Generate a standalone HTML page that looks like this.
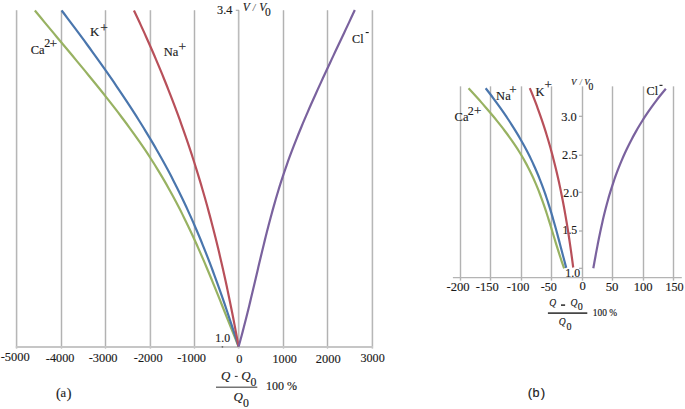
<!DOCTYPE html>
<html><head><meta charset="utf-8"><style>
html,body{margin:0;padding:0;background:#fff;}
svg{display:block;}
</style></head><body>
<svg width="685" height="409" viewBox="0 0 685 409">
<rect width="685" height="409" fill="#fff"/>
<line x1="16.6" y1="10.3" x2="16.6" y2="348.6" stroke="#ebebeb" stroke-width="2.6"/>
<line x1="16.6" y1="10.3" x2="16.6" y2="348.6" stroke="#b2b2b2" stroke-width="1.05"/>
<line x1="61.5" y1="10.3" x2="61.5" y2="348.6" stroke="#ebebeb" stroke-width="2.6"/>
<line x1="61.5" y1="10.3" x2="61.5" y2="348.6" stroke="#b2b2b2" stroke-width="1.05"/>
<line x1="105.5" y1="10.3" x2="105.5" y2="348.6" stroke="#ebebeb" stroke-width="2.6"/>
<line x1="105.5" y1="10.3" x2="105.5" y2="348.6" stroke="#b2b2b2" stroke-width="1.05"/>
<line x1="150.4" y1="10.3" x2="150.4" y2="348.6" stroke="#ebebeb" stroke-width="2.6"/>
<line x1="150.4" y1="10.3" x2="150.4" y2="348.6" stroke="#b2b2b2" stroke-width="1.05"/>
<line x1="194.5" y1="10.3" x2="194.5" y2="348.6" stroke="#ebebeb" stroke-width="2.6"/>
<line x1="194.5" y1="10.3" x2="194.5" y2="348.6" stroke="#b2b2b2" stroke-width="1.05"/>
<line x1="238.7" y1="10.3" x2="238.7" y2="348.6" stroke="#ebebeb" stroke-width="2.6"/>
<line x1="238.7" y1="10.3" x2="238.7" y2="348.6" stroke="#b2b2b2" stroke-width="1.05"/>
<line x1="283.5" y1="10.3" x2="283.5" y2="348.6" stroke="#ebebeb" stroke-width="2.6"/>
<line x1="283.5" y1="10.3" x2="283.5" y2="348.6" stroke="#b2b2b2" stroke-width="1.05"/>
<line x1="327.5" y1="10.3" x2="327.5" y2="348.6" stroke="#ebebeb" stroke-width="2.6"/>
<line x1="327.5" y1="10.3" x2="327.5" y2="348.6" stroke="#b2b2b2" stroke-width="1.05"/>
<line x1="372.4" y1="10.3" x2="372.4" y2="348.6" stroke="#ebebeb" stroke-width="2.6"/>
<line x1="372.4" y1="10.3" x2="372.4" y2="348.6" stroke="#b2b2b2" stroke-width="1.05"/>
<line x1="15.8" y1="347.0" x2="373.0" y2="347.0" stroke="#c6c6c6" stroke-width="2.0"/>
<line x1="235.8" y1="10.3" x2="238.9" y2="10.3" stroke="#a8a8a8" stroke-width="1.15"/>
<circle cx="222.4" cy="346.8" r="0.9" fill="#666"/>
<text id="t0" x="0.66" y="360.87" font-family='"Liberation Serif", serif' font-size="12.74" textLength="29.11" lengthAdjust="spacingAndGlyphs" fill="#1a1a1a" stroke="#1a1a1a" stroke-width="0.15">-5000</text>
<text id="t1" x="45.87" y="361.67" font-family='"Liberation Serif", serif' font-size="13.19" textLength="28.49" lengthAdjust="spacingAndGlyphs" fill="#1a1a1a" stroke="#1a1a1a" stroke-width="0.15">-4000</text>
<text id="t2" x="88.67" y="362.47" font-family='"Liberation Serif", serif' font-size="13.33" textLength="28.91" lengthAdjust="spacingAndGlyphs" fill="#1a1a1a" stroke="#1a1a1a" stroke-width="0.15">-3000</text>
<text id="t3" x="133.87" y="362.37" font-family='"Liberation Serif", serif' font-size="12.89" textLength="28.70" lengthAdjust="spacingAndGlyphs" fill="#1a1a1a" stroke="#1a1a1a" stroke-width="0.15">-2000</text>
<text id="t4" x="177.17" y="362.37" font-family='"Liberation Serif", serif' font-size="12.59" textLength="28.91" lengthAdjust="spacingAndGlyphs" fill="#1a1a1a" stroke="#1a1a1a" stroke-width="0.15">-1000</text>
<text id="t5" x="236.20" y="362.87" font-family='"Liberation Serif", serif' font-size="12.74" textLength="6.19" lengthAdjust="spacingAndGlyphs" fill="#1a1a1a" stroke="#1a1a1a" stroke-width="0.15">0</text>
<text id="t6" x="272.51" y="362.77" font-family='"Liberation Serif", serif' font-size="12.59" textLength="24.28" lengthAdjust="spacingAndGlyphs" fill="#1a1a1a" stroke="#1a1a1a" stroke-width="0.15">1000</text>
<text id="t7" x="315.74" y="362.87" font-family='"Liberation Serif", serif' font-size="12.74" textLength="24.86" lengthAdjust="spacingAndGlyphs" fill="#1a1a1a" stroke="#1a1a1a" stroke-width="0.15">2000</text>
<text id="t8" x="360.50" y="362.27" font-family='"Liberation Serif", serif' font-size="12.59" textLength="24.19" lengthAdjust="spacingAndGlyphs" fill="#1a1a1a" stroke="#1a1a1a" stroke-width="0.15">3000</text>
<text id="t9" x="217.09" y="13.71" font-family='"Liberation Serif", serif' font-size="12.59" textLength="15.30" lengthAdjust="spacingAndGlyphs" fill="#1a1a1a" stroke="#1a1a1a" stroke-width="0.15">3.4</text>
<text id="t10" x="215.34" y="341.82" font-family='"Liberation Serif", serif' font-size="12.21" textLength="14.73" lengthAdjust="spacingAndGlyphs" fill="#1a1a1a" stroke="#1a1a1a" stroke-width="0.15">1.0</text>
<text id="t11" x="242.87" y="10.73" font-family='"Liberation Serif", serif' font-size="11.5" font-style="italic" fill="#1a1a1a" stroke="#1a1a1a" stroke-width="0.15">V</text>
<text id="t12" x="252.83" y="10.50" font-family='"Liberation Serif", serif' font-size="9.5" font-style="italic" fill="#666" stroke="#666" stroke-width="0.15">/</text>
<text id="t13" x="259.27" y="10.73" font-family='"Liberation Serif", serif' font-size="11.5" font-style="italic" fill="#1a1a1a" stroke="#1a1a1a" stroke-width="0.15">V</text>
<text id="t14" x="264.94" y="16.19" font-family='"Liberation Serif", serif' font-size="11.5" fill="#1a1a1a" stroke="#1a1a1a" stroke-width="0.15">0</text>
<path d="M34.87,10.50 L37.98,14.28 L41.10,18.05 L44.23,21.83 L47.36,25.60 L50.50,29.38 L53.65,33.15 L56.79,36.93 L59.94,40.70 L63.09,44.48 L66.24,48.25 L69.38,52.03 L72.52,55.80 L75.66,59.58 L78.78,63.35 L81.90,67.13 L85.01,70.90 L88.11,74.68 L91.19,78.46 L94.26,82.23 L97.31,86.01 L100.34,89.78 L103.36,93.56 L106.35,97.33 L109.32,101.11 L112.27,104.88 L115.19,108.66 L118.09,112.43 L120.96,116.21 L123.80,119.98 L126.61,123.76 L129.38,127.53 L132.12,131.31 L134.83,135.08 L137.50,138.86 L140.13,142.63 L142.73,146.41 L145.28,150.19 L147.78,153.96 L150.25,157.74 L152.67,161.51 L155.04,165.29 L157.38,169.06 L159.67,172.84 L161.92,176.61 L164.13,180.39 L166.30,184.16 L168.43,187.94 L170.53,191.71 L172.60,195.49 L174.62,199.26 L176.62,203.04 L178.58,206.81 L180.52,210.59 L182.42,214.37 L184.29,218.14 L186.14,221.92 L187.96,225.69 L189.75,229.47 L191.52,233.24 L193.27,237.02 L194.99,240.79 L196.69,244.57 L198.38,248.34 L200.04,252.12 L201.68,255.89 L203.31,259.67 L204.92,263.44 L206.52,267.22 L208.11,270.99 L209.68,274.77 L211.24,278.54 L212.79,282.32 L214.33,286.10 L215.86,289.87 L217.38,293.65 L218.90,297.42 L220.42,301.20 L221.93,304.97 L223.43,308.75 L224.94,312.52 L226.44,316.30 L227.95,320.07 L229.45,323.85 L230.96,327.62 L232.47,331.40 L233.99,335.17 L235.51,338.95 L237.04,342.72 L238.58,346.50" fill="none" stroke="#98b262" stroke-width="2.2" stroke-linejoin="round"/>
<path d="M61.66,10.50 L64.53,14.28 L67.39,18.05 L70.24,21.83 L73.07,25.60 L75.90,29.38 L78.71,33.15 L81.50,36.93 L84.28,40.70 L87.05,44.48 L89.81,48.25 L92.54,52.03 L95.27,55.80 L97.97,59.58 L100.66,63.35 L103.34,67.13 L105.99,70.90 L108.63,74.68 L111.25,78.46 L113.85,82.23 L116.43,86.01 L118.99,89.78 L121.53,93.56 L124.05,97.33 L126.55,101.11 L129.03,104.88 L131.48,108.66 L133.91,112.43 L136.32,116.21 L138.71,119.98 L141.07,123.76 L143.41,127.53 L145.72,131.31 L148.01,135.08 L150.27,138.86 L152.51,142.63 L154.72,146.41 L156.90,150.19 L159.06,153.96 L161.18,157.74 L163.28,161.51 L165.35,165.29 L167.39,169.06 L169.40,172.84 L171.38,176.61 L173.33,180.39 L175.25,184.16 L177.15,187.94 L179.01,191.71 L180.85,195.49 L182.67,199.26 L184.46,203.04 L186.22,206.81 L187.96,210.59 L189.67,214.37 L191.36,218.14 L193.03,221.92 L194.67,225.69 L196.30,229.47 L197.90,233.24 L199.48,237.02 L201.04,240.79 L202.57,244.57 L204.09,248.34 L205.60,252.12 L207.08,255.89 L208.54,259.67 L209.99,263.44 L211.42,267.22 L212.84,270.99 L214.24,274.77 L215.62,278.54 L216.99,282.32 L218.35,286.10 L219.69,289.87 L221.02,293.65 L222.34,297.42 L223.64,301.20 L224.94,304.97 L226.22,308.75 L227.49,312.52 L228.76,316.30 L230.01,320.07 L231.26,323.85 L232.49,327.62 L233.72,331.40 L234.95,335.17 L236.16,338.95 L237.37,342.72 L238.58,346.50" fill="none" stroke="#4a76ad" stroke-width="2.2" stroke-linejoin="round"/>
<path d="M133.96,10.50 L135.74,14.28 L137.52,18.05 L139.28,21.83 L141.02,25.60 L142.75,29.38 L144.47,33.15 L146.17,36.93 L147.85,40.70 L149.52,44.48 L151.18,48.25 L152.82,52.03 L154.44,55.80 L156.06,59.58 L157.65,63.35 L159.23,67.13 L160.80,70.90 L162.35,74.68 L163.89,78.46 L165.41,82.23 L166.92,86.01 L168.41,89.78 L169.89,93.56 L171.36,97.33 L172.81,101.11 L174.24,104.88 L175.66,108.66 L177.06,112.43 L178.45,116.21 L179.83,119.98 L181.19,123.76 L182.53,127.53 L183.86,131.31 L185.18,135.08 L186.48,138.86 L187.77,142.63 L189.04,146.41 L190.29,150.19 L191.53,153.96 L192.76,157.74 L193.97,161.51 L195.17,165.29 L196.35,169.06 L197.52,172.84 L198.67,176.61 L199.81,180.39 L200.94,184.16 L202.05,187.94 L203.15,191.71 L204.23,195.49 L205.31,199.26 L206.36,203.04 L207.41,206.81 L208.44,210.59 L209.46,214.37 L210.47,218.14 L211.47,221.92 L212.45,225.69 L213.42,229.47 L214.38,233.24 L215.33,237.02 L216.27,240.79 L217.19,244.57 L218.11,248.34 L219.01,252.12 L219.90,255.89 L220.78,259.67 L221.66,263.44 L222.52,267.22 L223.37,270.99 L224.21,274.77 L225.04,278.54 L225.87,282.32 L226.68,286.10 L227.48,289.87 L228.28,293.65 L229.07,297.42 L229.84,301.20 L230.61,304.97 L231.37,308.75 L232.13,312.52 L232.87,316.30 L233.61,320.07 L234.34,323.85 L235.06,327.62 L235.77,331.40 L236.48,335.17 L237.18,338.95 L237.87,342.72 L238.56,346.50" fill="none" stroke="#b8505a" stroke-width="2.2" stroke-linejoin="round"/>
<path d="M354.81,10.00 L353.06,13.78 L351.30,17.56 L349.54,21.34 L347.77,25.12 L345.99,28.90 L344.22,32.69 L342.44,36.47 L340.66,40.25 L338.87,44.03 L337.09,47.81 L335.31,51.59 L333.53,55.37 L331.76,59.15 L329.99,62.93 L328.22,66.71 L326.46,70.49 L324.70,74.28 L322.95,78.06 L321.21,81.84 L319.48,85.62 L317.76,89.40 L316.05,93.18 L314.35,96.96 L312.66,100.74 L310.98,104.52 L309.32,108.30 L307.68,112.08 L306.05,115.87 L304.44,119.65 L302.84,123.43 L301.26,127.21 L299.71,130.99 L298.17,134.77 L296.65,138.55 L295.16,142.33 L293.68,146.11 L292.24,149.89 L290.81,153.67 L289.41,157.46 L288.04,161.24 L286.70,165.02 L285.38,168.80 L284.09,172.58 L282.83,176.36 L281.60,180.14 L280.39,183.92 L279.21,187.70 L278.05,191.48 L276.92,195.26 L275.80,199.04 L274.71,202.83 L273.64,206.61 L272.59,210.39 L271.55,214.17 L270.53,217.95 L269.53,221.73 L268.54,225.51 L267.57,229.29 L266.61,233.07 L265.66,236.85 L264.72,240.63 L263.79,244.42 L262.87,248.20 L261.96,251.98 L261.05,255.76 L260.15,259.54 L259.25,263.32 L258.36,267.10 L257.47,270.88 L256.58,274.66 L255.70,278.44 L254.81,282.22 L253.92,286.01 L253.02,289.79 L252.13,293.57 L251.23,297.35 L250.32,301.13 L249.41,304.91 L248.49,308.69 L247.56,312.47 L246.62,316.25 L245.67,320.03 L244.70,323.81 L243.73,327.60 L242.74,331.38 L241.73,335.16 L240.71,338.94 L239.68,342.72 L238.62,346.50" fill="none" stroke="#7a629e" stroke-width="2.2" stroke-linejoin="round"/>
<text id="t15" x="30.70" y="54.48" font-family='"Liberation Serif", serif' font-size="12.5" fill="#1a1a1a" stroke="#1a1a1a" stroke-width="0.15">Ca</text>
<text id="t16" x="44.26" y="47.00" font-family='"Liberation Serif", serif' font-size="12" fill="#1a1a1a" stroke="#1a1a1a" stroke-width="0.15">2</text>
<text id="t17" x="49.62" y="47.66" font-family='"Liberation Serif", serif' font-size="13.5" fill="#1a1a1a" stroke="#1a1a1a" stroke-width="0.15">+</text>
<text id="t18" x="90.11" y="35.50" font-family='"Liberation Serif", serif' font-size="13" fill="#1a1a1a" stroke="#1a1a1a" stroke-width="0.15">K</text>
<text id="t19" x="100.33" y="31.65" font-family='"Liberation Serif", serif' font-size="13.5" fill="#1a1a1a" stroke="#1a1a1a" stroke-width="0.15">+</text>
<text id="t20" x="163.82" y="56.27" font-family='"Liberation Serif", serif' font-size="12.5" fill="#1a1a1a" stroke="#1a1a1a" stroke-width="0.15">Na</text>
<text id="t21" x="178.52" y="51.16" font-family='"Liberation Serif", serif' font-size="13.5" fill="#1a1a1a" stroke="#1a1a1a" stroke-width="0.15">+</text>
<text id="t22" x="352.11" y="43.48" font-family='"Liberation Serif", serif' font-size="12.2" fill="#1a1a1a" stroke="#1a1a1a" stroke-width="0.15">Cl</text>
<rect x="365.7" y="32.0" width="3" height="1.1" fill="#1a1a1a"/>
<text id="t23" x="221.09" y="379.72" font-family='"Liberation Serif", serif' font-size="13" font-style="italic" fill="#1a1a1a" stroke="#1a1a1a" stroke-width="0.15">Q</text>
<rect x="234.8" y="375.9" width="2.9" height="0.9" fill="#1a1a1a"/>
<text id="t24" x="241.28" y="379.72" font-family='"Liberation Serif", serif' font-size="13" font-style="italic" fill="#1a1a1a" stroke="#1a1a1a" stroke-width="0.15">Q</text>
<text id="t25" x="250.53" y="386.08" font-family='"Liberation Serif", serif' font-size="11.8" fill="#1a1a1a" stroke="#1a1a1a" stroke-width="0.15">0</text>
<rect x="216" y="386.7" width="41.3" height="0.9" fill="#1a1a1a"/>
<text id="t26" x="233.48" y="400.62" font-family='"Liberation Serif", serif' font-size="13" font-style="italic" fill="#1a1a1a" stroke="#1a1a1a" stroke-width="0.15">Q</text>
<text id="t27" x="242.93" y="407.28" font-family='"Liberation Serif", serif' font-size="11.8" fill="#1a1a1a" stroke="#1a1a1a" stroke-width="0.15">0</text>
<text id="t28" x="265.92" y="390.12" font-family='"Liberation Serif", serif' font-size="12" fill="#1a1a1a" stroke="#1a1a1a" stroke-width="0.15">100 %</text>
<text id="t29" x="56.06" y="397.85" font-family='"Liberation Serif", serif' font-size="14.2" fill="#1a1a1a" stroke="#1a1a1a" stroke-width="0.15">(</text>
<text id="t30" x="60.56" y="397.27" font-family='"Liberation Serif", serif' font-size="12.5" fill="#1a1a1a" stroke="#1a1a1a" stroke-width="0.15">a</text>
<text id="t31" x="66.78" y="397.92" font-family='"Liberation Serif", serif' font-size="14.2" fill="#1a1a1a" stroke="#1a1a1a" stroke-width="0.15">)</text>
<line x1="460.5" y1="86.4" x2="460.5" y2="280.6" stroke="#ebebeb" stroke-width="2.6"/>
<line x1="460.5" y1="86.4" x2="460.5" y2="280.6" stroke="#b2b2b2" stroke-width="1.05"/>
<line x1="490.5" y1="86.4" x2="490.5" y2="280.6" stroke="#ebebeb" stroke-width="2.6"/>
<line x1="490.5" y1="86.4" x2="490.5" y2="280.6" stroke="#b2b2b2" stroke-width="1.05"/>
<line x1="521.5" y1="86.4" x2="521.5" y2="280.6" stroke="#ebebeb" stroke-width="2.6"/>
<line x1="521.5" y1="86.4" x2="521.5" y2="280.6" stroke="#b2b2b2" stroke-width="1.05"/>
<line x1="551.5" y1="86.4" x2="551.5" y2="280.6" stroke="#ebebeb" stroke-width="2.6"/>
<line x1="551.5" y1="86.4" x2="551.5" y2="280.6" stroke="#b2b2b2" stroke-width="1.05"/>
<line x1="582.5" y1="86.4" x2="582.5" y2="280.6" stroke="#ebebeb" stroke-width="2.6"/>
<line x1="582.5" y1="86.4" x2="582.5" y2="280.6" stroke="#b2b2b2" stroke-width="1.05"/>
<line x1="612.5" y1="86.4" x2="612.5" y2="280.6" stroke="#ebebeb" stroke-width="2.6"/>
<line x1="612.5" y1="86.4" x2="612.5" y2="280.6" stroke="#b2b2b2" stroke-width="1.05"/>
<line x1="643.5" y1="86.4" x2="643.5" y2="280.6" stroke="#ebebeb" stroke-width="2.6"/>
<line x1="643.5" y1="86.4" x2="643.5" y2="280.6" stroke="#b2b2b2" stroke-width="1.05"/>
<line x1="673.5" y1="86.4" x2="673.5" y2="280.6" stroke="#ebebeb" stroke-width="2.6"/>
<line x1="673.5" y1="86.4" x2="673.5" y2="280.6" stroke="#b2b2b2" stroke-width="1.05"/>
<line x1="452.9" y1="277.6" x2="681.8" y2="277.6" stroke="#b4b4b4" stroke-width="1.4"/>
<line x1="579.0" y1="116.3" x2="582.5" y2="116.3" stroke="#a8a8a8" stroke-width="1.15"/>
<line x1="579.0" y1="155.2" x2="582.5" y2="155.2" stroke="#a8a8a8" stroke-width="1.15"/>
<line x1="579.0" y1="192.3" x2="582.5" y2="192.3" stroke="#a8a8a8" stroke-width="1.15"/>
<line x1="579.0" y1="231.0" x2="582.5" y2="231.0" stroke="#a8a8a8" stroke-width="1.15"/>
<line x1="579.0" y1="268.3" x2="582.5" y2="268.3" stroke="#a8a8a8" stroke-width="1.15"/>
<text id="t32" x="561.18" y="120.70" font-family='"Liberation Serif", serif' font-size="13.09" textLength="15.52" lengthAdjust="spacingAndGlyphs" fill="#1a1a1a" stroke="#1a1a1a" stroke-width="0.15">3.0</text>
<text id="t33" x="562.04" y="158.80" font-family='"Liberation Serif", serif' font-size="13.04" textLength="15.56" lengthAdjust="spacingAndGlyphs" fill="#1a1a1a" stroke="#1a1a1a" stroke-width="0.15">2.5</text>
<text id="t34" x="563.36" y="196.51" font-family='"Liberation Serif", serif' font-size="12.65" textLength="15.13" lengthAdjust="spacingAndGlyphs" fill="#1a1a1a" stroke="#1a1a1a" stroke-width="0.15">2.0</text>
<text id="t35" x="562.54" y="233.51" font-family='"Liberation Serif", serif' font-size="12.74" textLength="14.73" lengthAdjust="spacingAndGlyphs" fill="#1a1a1a" stroke="#1a1a1a" stroke-width="0.15">1.5</text>
<text id="t36" x="565.34" y="276.81" font-family='"Liberation Serif", serif' font-size="12.79" textLength="14.73" lengthAdjust="spacingAndGlyphs" fill="#1a1a1a" stroke="#1a1a1a" stroke-width="0.15">1.0</text>
<text id="t37" x="446.46" y="290.87" font-family='"Liberation Serif", serif' font-size="12.89" textLength="23.12" lengthAdjust="spacingAndGlyphs" fill="#1a1a1a" stroke="#1a1a1a" stroke-width="0.15">-200</text>
<text id="t38" x="475.86" y="290.87" font-family='"Liberation Serif", serif' font-size="12.59" textLength="22.91" lengthAdjust="spacingAndGlyphs" fill="#1a1a1a" stroke="#1a1a1a" stroke-width="0.15">-150</text>
<text id="t39" x="506.87" y="290.77" font-family='"Liberation Serif", serif' font-size="12.89" textLength="22.50" lengthAdjust="spacingAndGlyphs" fill="#1a1a1a" stroke="#1a1a1a" stroke-width="0.15">-100</text>
<text id="t40" x="540.78" y="290.57" font-family='"Liberation Serif", serif' font-size="12.74" textLength="16.08" lengthAdjust="spacingAndGlyphs" fill="#1a1a1a" stroke="#1a1a1a" stroke-width="0.15">-50</text>
<text id="t41" x="579.50" y="290.48" font-family='"Liberation Serif", serif' font-size="12.30" textLength="6.31" lengthAdjust="spacingAndGlyphs" fill="#1a1a1a" stroke="#1a1a1a" stroke-width="0.15">0</text>
<text id="t42" x="605.73" y="290.78" font-family='"Liberation Serif", serif' font-size="12.44" textLength="12.78" lengthAdjust="spacingAndGlyphs" fill="#1a1a1a" stroke="#1a1a1a" stroke-width="0.15">50</text>
<text id="t43" x="633.66" y="290.77" font-family='"Liberation Serif", serif' font-size="12.59" textLength="18.94" lengthAdjust="spacingAndGlyphs" fill="#1a1a1a" stroke="#1a1a1a" stroke-width="0.15">100</text>
<text id="t44" x="665.40" y="291.47" font-family='"Liberation Serif", serif' font-size="12.59" textLength="18.28" lengthAdjust="spacingAndGlyphs" fill="#1a1a1a" stroke="#1a1a1a" stroke-width="0.15">150</text>
<text id="t45" x="571.11" y="85.27" font-family='"Liberation Serif", serif' font-size="8.9" font-style="italic" fill="#1a1a1a" stroke="#1a1a1a" stroke-width="0.15">V</text>
<text id="t46" x="579.84" y="85.12" font-family='"Liberation Serif", serif' font-size="7.5" font-style="italic" fill="#777" stroke="#777" stroke-width="0.15">/</text>
<text id="t47" x="584.31" y="85.27" font-family='"Liberation Serif", serif' font-size="8.9" font-style="italic" fill="#1a1a1a" stroke="#1a1a1a" stroke-width="0.15">V</text>
<text id="t48" x="588.62" y="89.80" font-family='"Liberation Serif", serif' font-size="9.6" fill="#1a1a1a" stroke="#1a1a1a" stroke-width="0.15">0</text>
<path d="M468.55,88.20 L470.41,90.22 L472.25,92.25 L474.09,94.27 L475.92,96.30 L477.73,98.32 L479.54,100.35 L481.33,102.37 L483.10,104.40 L484.87,106.42 L486.62,108.45 L488.35,110.47 L490.06,112.50 L491.76,114.52 L493.45,116.55 L495.11,118.57 L496.76,120.60 L498.38,122.62 L499.99,124.64 L501.58,126.67 L503.14,128.69 L504.69,130.72 L506.21,132.74 L507.70,134.77 L509.18,136.79 L510.63,138.82 L512.05,140.84 L513.45,142.87 L514.82,144.89 L516.16,146.92 L517.48,148.94 L518.77,150.97 L520.02,152.99 L521.25,155.02 L522.45,157.04 L523.62,159.07 L524.76,161.09 L525.87,163.11 L526.96,165.14 L528.02,167.16 L529.05,169.19 L530.06,171.21 L531.04,173.24 L532.00,175.26 L532.94,177.29 L533.85,179.31 L534.74,181.34 L535.62,183.36 L536.47,185.39 L537.31,187.41 L538.12,189.44 L538.92,191.46 L539.71,193.49 L540.47,195.51 L541.23,197.53 L541.97,199.56 L542.69,201.58 L543.40,203.61 L544.10,205.63 L544.79,207.66 L545.47,209.68 L546.14,211.71 L546.80,213.73 L547.45,215.76 L548.10,217.78 L548.74,219.81 L549.37,221.83 L550.00,223.86 L550.62,225.88 L551.24,227.91 L551.86,229.93 L552.48,231.96 L553.09,233.98 L553.71,236.00 L554.32,238.03 L554.94,240.05 L555.56,242.08 L556.18,244.10 L556.81,246.13 L557.44,248.15 L558.07,250.18 L558.71,252.20 L559.36,254.23 L560.01,256.25 L560.68,258.28 L561.35,260.30 L562.03,262.33 L562.72,264.35 L563.42,266.38 L564.14,268.40" fill="none" stroke="#98b262" stroke-width="2.2" stroke-linejoin="round"/>
<path d="M485.66,88.20 L487.23,90.22 L488.78,92.24 L490.32,94.26 L491.85,96.28 L493.36,98.30 L494.85,100.31 L496.33,102.33 L497.79,104.35 L499.24,106.37 L500.68,108.39 L502.10,110.41 L503.50,112.43 L504.88,114.45 L506.25,116.47 L507.60,118.49 L508.94,120.51 L510.26,122.52 L511.56,124.54 L512.84,126.56 L514.11,128.58 L515.36,130.60 L516.59,132.62 L517.80,134.64 L519.00,136.66 L520.17,138.68 L521.33,140.70 L522.47,142.72 L523.59,144.73 L524.69,146.75 L525.77,148.77 L526.83,150.79 L527.87,152.81 L528.89,154.83 L529.89,156.85 L530.88,158.87 L531.84,160.89 L532.78,162.91 L533.71,164.93 L534.62,166.94 L535.51,168.96 L536.38,170.98 L537.23,173.00 L538.07,175.02 L538.90,177.04 L539.70,179.06 L540.50,181.08 L541.27,183.10 L542.04,185.12 L542.79,187.14 L543.52,189.16 L544.25,191.17 L544.96,193.19 L545.66,195.21 L546.34,197.23 L547.02,199.25 L547.68,201.27 L548.34,203.29 L548.98,205.31 L549.62,207.33 L550.24,209.35 L550.86,211.37 L551.46,213.38 L552.06,215.40 L552.66,217.42 L553.24,219.44 L553.82,221.46 L554.39,223.48 L554.96,225.50 L555.52,227.52 L556.07,229.54 L556.63,231.56 L557.17,233.58 L557.72,235.59 L558.26,237.61 L558.79,239.63 L559.33,241.65 L559.86,243.67 L560.39,245.69 L560.92,247.71 L561.45,249.73 L561.98,251.75 L562.50,253.77 L563.03,255.79 L563.56,257.80 L564.09,259.82 L564.62,261.84 L565.16,263.86 L565.70,265.88 L566.24,267.90" fill="none" stroke="#4a76ad" stroke-width="2.2" stroke-linejoin="round"/>
<path d="M529.79,88.10 L530.63,90.12 L531.46,92.13 L532.27,94.15 L533.08,96.16 L533.87,98.18 L534.66,100.19 L535.43,102.21 L536.20,104.23 L536.95,106.24 L537.69,108.26 L538.43,110.27 L539.15,112.29 L539.87,114.30 L540.57,116.32 L541.27,118.34 L541.96,120.35 L542.63,122.37 L543.30,124.38 L543.96,126.40 L544.61,128.41 L545.25,130.43 L545.88,132.45 L546.51,134.46 L547.12,136.48 L547.73,138.49 L548.33,140.51 L548.91,142.52 L549.50,144.54 L550.07,146.56 L550.63,148.57 L551.19,150.59 L551.74,152.60 L552.28,154.62 L552.82,156.63 L553.34,158.65 L553.86,160.67 L554.37,162.68 L554.88,164.70 L555.37,166.71 L555.86,168.73 L556.35,170.74 L556.82,172.76 L557.29,174.78 L557.75,176.79 L558.21,178.81 L558.66,180.82 L559.10,182.84 L559.54,184.86 L559.97,186.87 L560.39,188.89 L560.81,190.90 L561.22,192.92 L561.63,194.93 L562.03,196.95 L562.43,198.97 L562.82,200.98 L563.20,203.00 L563.58,205.01 L563.95,207.03 L564.32,209.04 L564.68,211.06 L565.04,213.08 L565.40,215.09 L565.75,217.11 L566.09,219.12 L566.43,221.14 L566.76,223.15 L567.09,225.17 L567.42,227.19 L567.74,229.20 L568.06,231.22 L568.38,233.23 L568.69,235.25 L568.99,237.26 L569.29,239.28 L569.59,241.30 L569.89,243.31 L570.18,245.33 L570.47,247.34 L570.75,249.36 L571.04,251.37 L571.32,253.39 L571.59,255.41 L571.87,257.42 L572.14,259.44 L572.41,261.45 L572.67,263.47 L572.93,265.48 L573.19,267.50" fill="none" stroke="#b8505a" stroke-width="2.2" stroke-linejoin="round"/>
<path d="M665.84,88.70 L664.16,90.72 L662.50,92.74 L660.87,94.75 L659.27,96.77 L657.70,98.79 L656.16,100.81 L654.65,102.83 L653.16,104.84 L651.70,106.86 L650.27,108.88 L648.86,110.90 L647.48,112.92 L646.13,114.93 L644.80,116.95 L643.49,118.97 L642.21,120.99 L640.96,123.01 L639.72,125.02 L638.52,127.04 L637.33,129.06 L636.17,131.08 L635.03,133.10 L633.91,135.11 L632.82,137.13 L631.75,139.15 L630.70,141.17 L629.67,143.19 L628.66,145.20 L627.67,147.22 L626.70,149.24 L625.75,151.26 L624.82,153.28 L623.91,155.29 L623.02,157.31 L622.14,159.33 L621.29,161.35 L620.45,163.37 L619.63,165.38 L618.83,167.40 L618.04,169.42 L617.27,171.44 L616.52,173.46 L615.78,175.47 L615.06,177.49 L614.35,179.51 L613.66,181.53 L612.98,183.54 L612.32,185.56 L611.67,187.58 L611.03,189.60 L610.41,191.62 L609.80,193.63 L609.20,195.65 L608.62,197.67 L608.05,199.69 L607.49,201.71 L606.93,203.72 L606.40,205.74 L605.87,207.76 L605.35,209.78 L604.84,211.80 L604.34,213.81 L603.85,215.83 L603.37,217.85 L602.90,219.87 L602.43,221.89 L601.98,223.90 L601.53,225.92 L601.09,227.94 L600.66,229.96 L600.23,231.98 L599.81,233.99 L599.39,236.01 L598.98,238.03 L598.58,240.05 L598.18,242.07 L597.79,244.08 L597.40,246.10 L597.01,248.12 L596.63,250.14 L596.25,252.16 L595.87,254.17 L595.50,256.19 L595.13,258.21 L594.76,260.23 L594.39,262.25 L594.03,264.26 L593.66,266.28 L593.30,268.30" fill="none" stroke="#7a629e" stroke-width="2.2" stroke-linejoin="round"/>
<text id="t49" x="454.60" y="120.88" font-family='"Liberation Serif", serif' font-size="12.5" fill="#1a1a1a" stroke="#1a1a1a" stroke-width="0.15">Ca</text>
<text id="t50" x="467.76" y="114.50" font-family='"Liberation Serif", serif' font-size="12" fill="#1a1a1a" stroke="#1a1a1a" stroke-width="0.15">2</text>
<text id="t51" x="473.95" y="114.69" font-family='"Liberation Serif", serif' font-size="13" fill="#1a1a1a" stroke="#1a1a1a" stroke-width="0.15">+</text>
<text id="t52" x="496.12" y="99.78" font-family='"Liberation Serif", serif' font-size="12.5" fill="#1a1a1a" stroke="#1a1a1a" stroke-width="0.15">Na</text>
<text id="t53" x="509.15" y="93.69" font-family='"Liberation Serif", serif' font-size="13" fill="#1a1a1a" stroke="#1a1a1a" stroke-width="0.15">+</text>
<text id="t54" x="535.62" y="96.00" font-family='"Liberation Serif", serif' font-size="12.5" fill="#1a1a1a" stroke="#1a1a1a" stroke-width="0.15">K</text>
<text id="t55" x="544.55" y="88.79" font-family='"Liberation Serif", serif' font-size="13" fill="#1a1a1a" stroke="#1a1a1a" stroke-width="0.15">+</text>
<text id="t56" x="646.51" y="94.58" font-family='"Liberation Serif", serif' font-size="12.2" fill="#1a1a1a" stroke="#1a1a1a" stroke-width="0.15">Cl</text>
<rect x="659.5" y="84.8" width="3" height="1.1" fill="#1a1a1a"/>
<text id="t57" x="549.37" y="306.13" font-family='"Liberation Serif", serif' font-size="9.6" font-style="italic" fill="#1a1a1a" stroke="#1a1a1a" stroke-width="0.15">Q</text>
<rect x="561" y="304.4" width="4.1" height="1.4" fill="#1a1a1a"/>
<text id="t58" x="570.47" y="306.13" font-family='"Liberation Serif", serif' font-size="9.6" font-style="italic" fill="#1a1a1a" stroke="#1a1a1a" stroke-width="0.15">Q</text>
<text id="t59" x="577.80" y="309.80" font-family='"Liberation Serif", serif' font-size="10" fill="#1a1a1a" stroke="#1a1a1a" stroke-width="0.15">0</text>
<rect x="547.9" y="312.4" width="39.4" height="1.4" fill="#1a1a1a"/>
<text id="t60" x="558.77" y="325.43" font-family='"Liberation Serif", serif' font-size="9.6" font-style="italic" fill="#1a1a1a" stroke="#1a1a1a" stroke-width="0.15">Q</text>
<text id="t61" x="566.50" y="329.60" font-family='"Liberation Serif", serif' font-size="10" fill="#1a1a1a" stroke="#1a1a1a" stroke-width="0.15">0</text>
<text id="t62" x="592.85" y="315.56" font-family='"Liberation Serif", serif' font-size="9.4" fill="#1a1a1a" stroke="#1a1a1a" stroke-width="0.15">100 %</text>
<text id="t63" x="527.70" y="397.11" font-family='"Liberation Sans", sans-serif' font-size="13.3" fill="#1a1a1a" stroke="#1a1a1a" stroke-width="0.15">(</text>
<text id="t64" x="532.38" y="396.87" font-family='"Liberation Sans", sans-serif' font-size="12.6" fill="#1a1a1a" stroke="#1a1a1a" stroke-width="0.15">b</text>
<text id="t65" x="540.81" y="397.11" font-family='"Liberation Sans", sans-serif' font-size="13.3" fill="#1a1a1a" stroke="#1a1a1a" stroke-width="0.15">)</text>
</svg>
</body></html>
